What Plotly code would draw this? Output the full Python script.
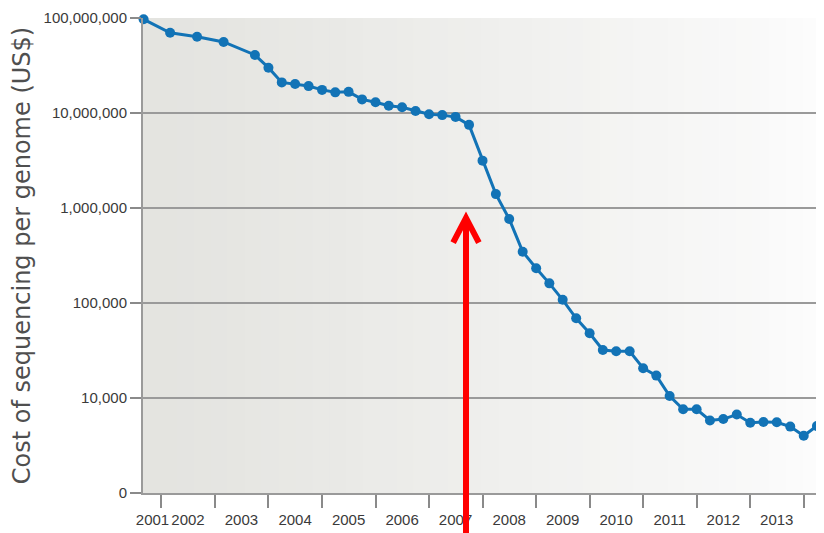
import plotly.graph_objects as go

# ---- data ----
dates = [
    "2001-09-01", "2002-03-01", "2002-09-01", "2003-03-01", "2003-10-01",
    "2004-01-01", "2004-04-01", "2004-07-01", "2004-10-01",
    "2005-01-01", "2005-04-01", "2005-07-01", "2005-10-01",
    "2006-01-01", "2006-04-01", "2006-07-01", "2006-10-01",
    "2007-01-01", "2007-04-01", "2007-07-01", "2007-10-01",
    "2008-01-01", "2008-04-01", "2008-07-01", "2008-10-01",
    "2009-01-01", "2009-04-01", "2009-07-01", "2009-10-01",
    "2010-01-01", "2010-04-01", "2010-07-01", "2010-10-01",
    "2011-01-01", "2011-04-01", "2011-07-01", "2011-10-01",
    "2012-01-01", "2012-04-01", "2012-07-01", "2012-10-01",
    "2013-01-01", "2013-04-01", "2013-07-01", "2013-10-01",
    "2014-01-01", "2014-04-01",
]
cost = [
    97000000, 70000000, 63500000, 56000000, 40800000,
    30000000, 21000000, 20200000, 19200000,
    17500000, 16500000, 16700000, 13900000,
    13000000, 11900000, 11500000, 10500000,
    9700000, 9500000, 9100000, 7500000,
    3150000, 1400000, 766000, 347000,
    232000, 161000, 108000, 69000,
    48000, 32000, 31000, 31000,
    20600, 17200, 10500, 7600,
    7600, 5800, 6000, 6700,
    5500, 5600, 5550, 5000,
    4000, 5070,
]

y_tickvals = [1e3, 1e4, 1e5, 1e6, 1e7, 1e8]
y_ticktext = ["0", "10,000", "100,000", "1,000,000", "10,000,000", "100,000,000"]

year_tick_dates = [f"{y}-01-01" for y in range(2002, 2015)]
year_label_dates = ["2001-11-01"] + [f"{y}-07-01" for y in range(2002, 2014)]
year_labels = [str(y) for y in range(2001, 2014)]

x_range = ["2001-08-28", "2014-04-22"]

TICKFONT = "Liberation Sans"

fig = go.Figure()

fig.add_trace(go.Scatter(
    x=dates, y=cost, mode="lines+markers",
    line=dict(color="#1273b6", width=3),
    marker=dict(color="#1273b6", size=10),
    cliponaxis=False, showlegend=False, hoverinfo="x+y",
))
# invisible trace to activate the label axis
fig.add_trace(go.Scatter(x=[dates[0]], y=[cost[0]], xaxis="x2", mode="markers",
                         marker=dict(opacity=0), showlegend=False, hoverinfo="skip"))

# background gradient (grey at left fading to white at right)
n = 40
shapes = []
for i in range(n):
    t = i / (n - 1)
    c = int(228 + (252 - 228) * t ** 1.1)
    c2 = int(224 + (252 - 224) * t ** 1.1)
    shapes.append(dict(type="rect", xref="paper", yref="paper",
                       x0=i / n, x1=(i + 1) / n + 0.002, y0=0, y1=1,
                       fillcolor=f"rgb({c},{c},{c2})", line=dict(width=0), layer="below"))

# red arrow (paper coordinates)
ax_x = 0.4771
shapes.append(dict(type="line", xref="paper", yref="paper",
                   x0=ax_x, x1=ax_x, y0=-0.11, y1=0.575,
                   line=dict(color="#ff0000", width=6)))
shapes.append(dict(type="path", xref="paper", yref="paper",
                   path=f"M {ax_x-0.019},0.527 L {ax_x},0.579 L {ax_x+0.019},0.527",
                   line=dict(color="#ff0000", width=6)))

# page body has an 8px margin, so the figure is 8px smaller and margins shifted
fig.update_layout(
    width=816, height=525,
    margin=dict(l=135, r=4, t=10, b=40),
    paper_bgcolor="white",
    plot_bgcolor="rgba(0,0,0,0)",
    shapes=shapes,
    xaxis=dict(
        type="date", range=x_range, automargin=False,
        tickvals=year_tick_dates, showticklabels=False,
        ticks="outside", ticklen=13, tickwidth=1.5, tickcolor="#8a8a8a",
        showgrid=False, zeroline=False,
        showline=True, linecolor="#9a9a9a", linewidth=2,
    ),
    xaxis2=dict(
        type="date", range=x_range, overlaying="x", side="bottom", anchor="y",
        automargin=False, tickangle=0,
        tickvals=year_label_dates, ticktext=year_labels,
        ticks="outside", ticklen=13, tickcolor="rgba(0,0,0,0)",
        tickfont=dict(family=TICKFONT, size=15, color="#3a3a3a"),
        showgrid=False, zeroline=False, showline=False,
    ),
    yaxis=dict(
        type="log", range=[3, 8], automargin=False,
        tickvals=y_tickvals, ticktext=y_ticktext,
        ticks="outside", ticklen=11, tickwidth=1.5, tickcolor="#8a8a8a",
        tickfont=dict(family=TICKFONT, size=15, color="#3a3a3a"),
        showgrid=True, gridcolor="#9a9a9a", gridwidth=2,
        zeroline=False,
        showline=True, linecolor="#9a9a9a", linewidth=2,
        title=dict(text="Cost of sequencing per genome (US$)",
                   font=dict(family="DejaVu Sans", size=24, color="#4f4f4f"),
                   standoff=6),
    ),
)

fig.write_html("out.html")
